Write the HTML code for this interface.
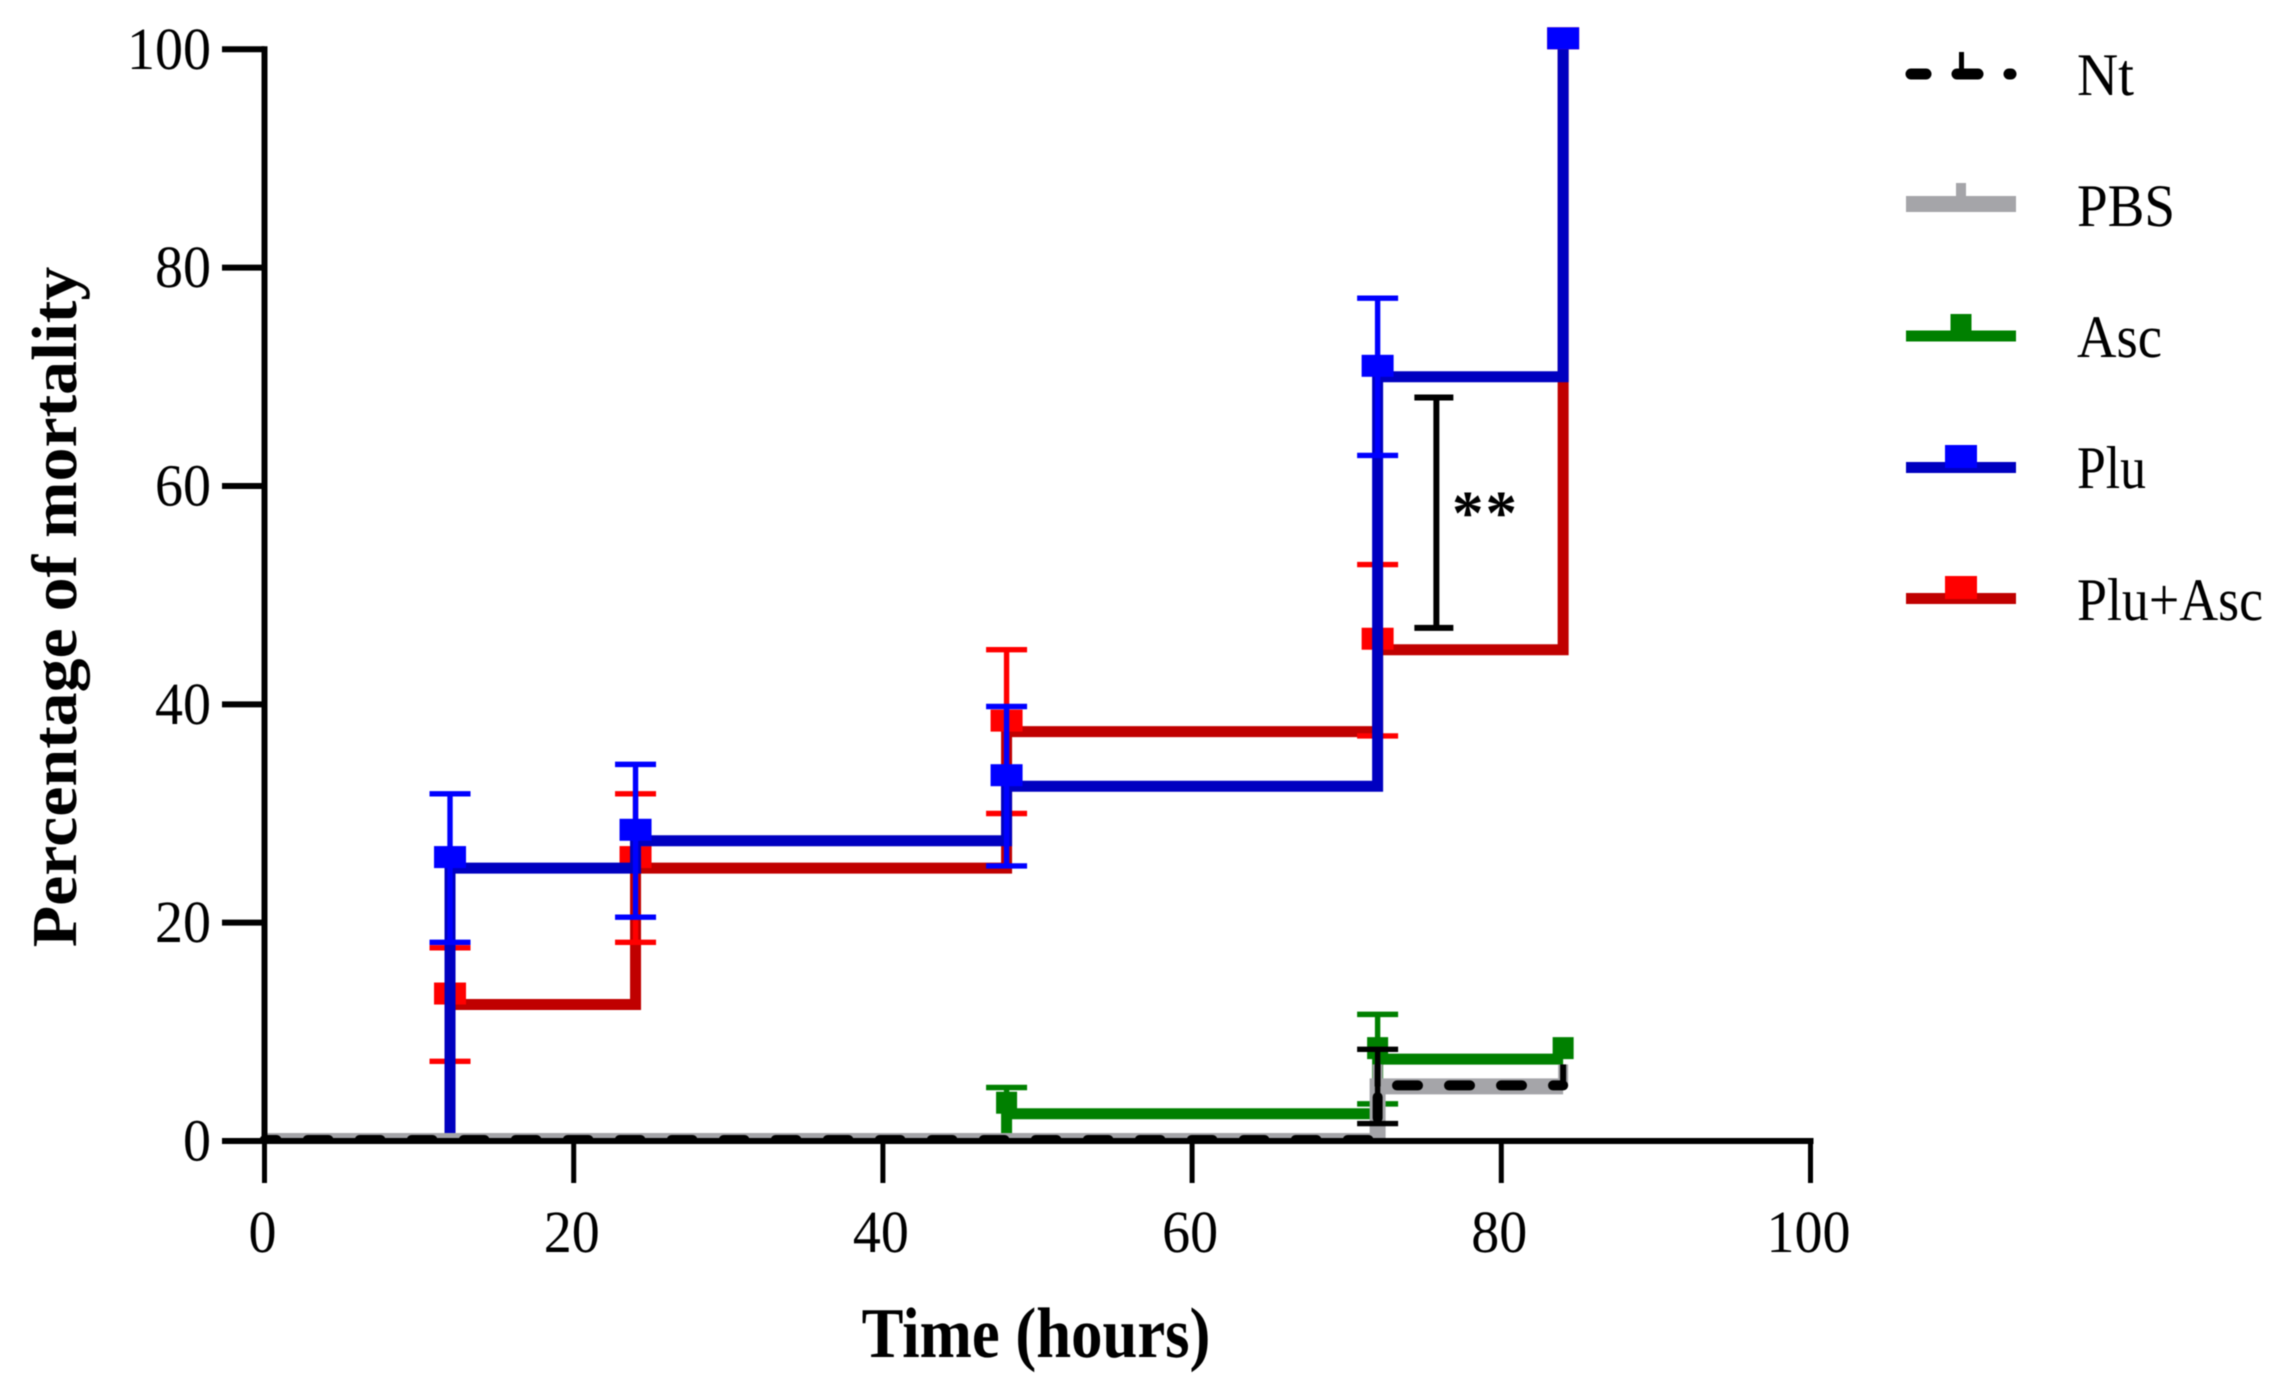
<!DOCTYPE html>
<html lang="en">
<head>
<meta charset="utf-8">
<title>Percentage of mortality over time</title>
<style>
html,body{margin:0;padding:0;background:#fff;}
svg{display:block;filter:blur(0.5px);}
text{font-family:"Liberation Serif",serif;fill:#000;text-rendering:geometricPrecision;}
</style>
</head>
<body>
<svg id="chart" xmlns="http://www.w3.org/2000/svg" width="2287" height="1398" viewBox="0 0 2287 1398">
  <defs><clipPath id="plot-clip"><rect x="200" y="0" width="1700" height="1144"/></clipPath></defs>
  <rect width="2287" height="1398" fill="#fff"/>
  <g id="series-layer" clip-path="url(#plot-clip)"></g>
  <g id="axis-layer"></g>

  <text transform="translate(76,607) rotate(-90) scale(1.06,1)" font-size="64" font-weight="bold" text-anchor="middle">Percentage of mortality</text>
  <text transform="translate(1036,1357) scale(1,1.14)" font-size="62.7" font-weight="bold" text-anchor="middle">Time (hours)</text>

  <g>
    <text x="1452" y="534" font-size="63" font-weight="bold" letter-spacing="2">**</text>
  </g>

  <g>
    <g>
      <rect x="1959" y="52" width="5" height="22" fill="#000"/>
      <line x1="1911" y1="74" x2="1926" y2="74" stroke="#000" stroke-width="11" stroke-linecap="round"/>
      <line x1="1957" y1="74" x2="1978" y2="74" stroke="#000" stroke-width="11" stroke-linecap="round"/>
      <line x1="2009" y1="74" x2="2011" y2="74" stroke="#000" stroke-width="11" stroke-linecap="round"/>
      <text transform="translate(2077,95) scale(1,1.08)" font-size="56" textLength="57" lengthAdjust="spacingAndGlyphs">Nt</text>
    </g>
    <g>
      <rect x="1956" y="183" width="10" height="22" fill="#a5a5a9"/>
      <rect x="1906" y="196" width="110" height="16" fill="#a5a5a9"/>
      <text transform="translate(2077,226) scale(1,1.08)" font-size="56" textLength="98" lengthAdjust="spacingAndGlyphs">PBS</text>
    </g>
    <g>
      <rect x="1950.5" y="314" width="21" height="22" fill="#008000"/>
      <rect x="1906" y="330.5" width="110" height="11" fill="#008000"/>
      <text transform="translate(2077,357) scale(1,1.08)" font-size="56" textLength="85" lengthAdjust="spacingAndGlyphs">Asc</text>
    </g>
    <g>
      <rect x="1906" y="462" width="110" height="11" fill="#0000c0"/>
      <rect x="1945" y="445" width="32" height="23" fill="#0000ff"/>
      <text transform="translate(2077,488) scale(1,1.08)" font-size="56" textLength="69" lengthAdjust="spacingAndGlyphs">Plu</text>
    </g>
    <g>
      <rect x="1906" y="593" width="110" height="11" fill="#c00000"/>
      <rect x="1945" y="576" width="32" height="23" fill="#ff0000"/>
      <text transform="translate(2077,620) scale(1,1.08)" font-size="56" textLength="186" lengthAdjust="spacingAndGlyphs">Plu+Asc</text>
    </g>
  </g>
</svg>
<script>
// ---- chart data ----
const times = [0, 12, 24, 48, 72, 84];
const xTickLabels = [0, 20, 40, 60, 80, 100];
const yTickLabels = [0, 20, 40, 60, 80, 100];

const pluAscValues = [0, 12.5, 25, 37.5, 45, 100];
const pluAscUpper = [null, 17.7, 31.8, 45, 52.8, null];
const pluAscLower = [null, 7.3, 18.2, 30, 37.1, null];

const pluValues = [0, 25, 27.5, 32.5, 70, 100];
const pluUpper = [null, 31.8, 34.5, 39.8, 77.2, null];
const pluLower = [null, 18.2, 20.5, 25.2, 62.8, null];

const ascValues = [0, 0, 0, 2.5, 7.5, 7.5];
const ascUpper = [null, null, null, 4.9, 11.6, null];
const ascLower = [null, null, null, 0, 3.4, null];

const pbsValues = [0, 0, 0, 0, 5, 5];
const pbsUpper = [null, null, null, null, null, null];
const pbsLower = [null, null, null, null, null, null];

const ntValues = [0, 0, 0, 0, 5, 5];
const ntUpper = [null, null, null, null, 8.4, null];
const ntLower = [null, null, null, null, 1.6, null];

const significanceTime = 75.8;
const significanceTop = 68.1;
const significanceBottom = 47;

// ---- axis functions ----
const xAxis = function (t) { return 264.5 + t * 15.46; };
const yAxis = function (v) { return 1141 - v * 10.917; };

const NS = 'http://www.w3.org/2000/svg';
function mk(parent, tag, attrs) {
  const node = document.createElementNS(NS, tag);
  for (const key in attrs) node.setAttribute(key, attrs[key]);
  parent.appendChild(node);
  return node;
}

const seriesLayer = document.getElementById('series-layer');
const axisLayer = document.getElementById('axis-layer');

function drawSeries(name, values, upper, lower, lineColor, markColor, lineWidth, markerWidth, dashed) {
  const group = mk(seriesLayer, 'g', {});
  
  

  let d = 'M' + xAxis(times[0]) + ' ' + yAxis(values[0]);
  for (let i = 1; i < times.length; i++) {
    d += 'H' + xAxis(times[i]) + 'V' + yAxis(values[i]);
  }
  const stepLine = mk(group, 'path', { d: d, fill: 'none', stroke: lineColor, 'stroke-width': lineWidth, 'stroke-linejoin': 'miter' });
  
  
  if (dashed) {
    stepLine.setAttribute('stroke-dasharray', '21 31');
    stepLine.setAttribute('stroke-dashoffset', '8.9');
    stepLine.setAttribute('stroke-linecap', 'round');
    stepLine.setAttribute('transform', 'translate(0,-1)');
  }

  for (let i = 0; i < times.length; i++) {
    if (upper[i] !== null) {
      const x = xAxis(times[i]);
      const top = yAxis(upper[i]);
      const bottom = yAxis(lower[i]);
      const bar = mk(group, 'path', {
        d: 'M' + x + ' ' + top + 'V' + bottom + 'M' + (x - 20.5) + ' ' + top + 'H' + (x + 20.5) + 'M' + (x - 20.5) + ' ' + bottom + 'H' + (x + 20.5),
        fill: 'none', stroke: markColor, 'stroke-width': 5.4
      });
      
      
    }
  }

  for (let i = 0; i < times.length; i++) {
    if (values[i] > 0) {
      const marker = mk(group, 'rect', {
        x: xAxis(times[i]) - markerWidth / 2,
        y: yAxis(values[i]) - 22,
        width: markerWidth,
        height: 22,
        fill: markColor
      });
      
      
    }
  }
}

drawSeries('plu-asc', pluAscValues, pluAscUpper, pluAscLower, '#c00000', '#ff0000', 11, 32, false);
drawSeries('plu', pluValues, pluUpper, pluLower, '#0000c0', '#0000ff', 11, 32, false);
drawSeries('asc', ascValues, ascUpper, ascLower, '#008000', '#008000', 11, 21, false);
drawSeries('pbs', pbsValues, pbsUpper, pbsLower, '#a5a5a9', '#a5a5a9', 16, 10, false);
drawSeries('nt', ntValues, ntUpper, ntLower, '#000000', '#000000', 10, 6, true);

// ---- axes ----
const xAxisLine = mk(axisLayer, 'line', { x1: 261.5, y1: yAxis(0), x2: xAxis(100) + 3, y2: yAxis(0), stroke: '#000', 'stroke-width': 6 });



const yAxisLine = mk(axisLayer, 'line', { x1: xAxis(0), y1: yAxis(100) - 3, x2: xAxis(0), y2: yAxis(0) + 3, stroke: '#000', 'stroke-width': 6 });



xTickLabels.forEach(function (value) {
  const x = xAxis(value);
  const tick = mk(axisLayer, 'line', { x1: x, y1: yAxis(0), x2: x, y2: 1183, stroke: '#000', 'stroke-width': 5 });
  
  
  const label = mk(axisLayer, 'text', { transform: 'translate(' + (x - 2) + ',1252) scale(1,1.07)', 'font-size': 56, 'text-anchor': 'middle' });
  label.textContent = value;
  
  
});

yTickLabels.forEach(function (value) {
  const y = yAxis(value);
  const tick = mk(axisLayer, 'line', { x1: 222, y1: y, x2: xAxis(0), y2: y, stroke: '#000', 'stroke-width': 6 });
  
  
  const label = mk(axisLayer, 'text', { transform: 'translate(211,' + (y + 19.5) + ') scale(1,1.07)', 'font-size': 56, 'text-anchor': 'end' });
  label.textContent = value;
  
  
});

// ---- significance bracket ----
const sigX = xAxis(significanceTime);
const sigTop = yAxis(significanceTop);
const sigBottom = yAxis(significanceBottom);
const sigBracket = mk(axisLayer, 'path', {
  d: 'M' + sigX + ' ' + sigTop + 'V' + sigBottom + 'M' + (sigX - 22) + ' ' + sigTop + 'H' + (sigX + 17) + 'M' + (sigX - 22) + ' ' + sigBottom + 'H' + (sigX + 17),
  fill: 'none', stroke: '#000', 'stroke-width': 6
});


</script>
</body>
</html>
